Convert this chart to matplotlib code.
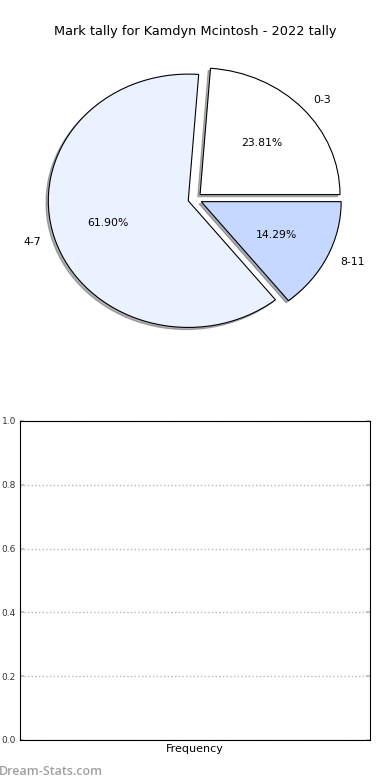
import numpy as np
import matplotlib
matplotlib.use("Agg")
import matplotlib.pyplot as plt

labels = ['0-3', '4-7', '8-11']
tally = [5, 13, 3]
colours = ['#ffffff', '#eaf1ff', '#c6d8ff']
explode = [0.05, 0.05, 0.05]

freq_labels = ['Frequency']
freq_values = []

fig = plt.figure(figsize=(3.9, 7.8), dpi=100)

# pie on top
ax1 = fig.add_axes([0.0513, 0.542, 0.897, 0.406])
wedges, texts, autotexts = ax1.pie(tally, labels=labels, colors=colours, explode=explode,
                                   autopct='%1.2f%%', startangle=0,
                                   shadow={'ox': -0.012, 'oy': -0.012, 'shade': 0.6},
                                   wedgeprops={'edgecolor': 'black', 'linewidth': 0.8},
                                   textprops={'fontsize': 7.8})
ax1.set_aspect('auto')
ax1.set_xlim(-1.25, 1.25)
ax1.set_ylim(-1.25, 1.25)
ax1.set_title('Mark tally for Kamdyn Mcintosh - 2022 tally', fontsize=9.3, pad=4)

# empty frequency plot underneath
ax2 = fig.add_axes([0.0513, 0.0513, 0.897, 0.409])
if freq_values:
    ax2.bar(range(len(freq_values)), freq_values)
ax2.set_xlim(-0.5, 0.5)
ax2.set_ylim(0, 1)
ax2.set_xticks(range(len(freq_labels)))
ax2.set_xticklabels(freq_labels, fontsize=8)
ax2.set_yticks(np.arange(0, 1.01, 0.2))
ax2.tick_params(axis='y', labelsize=6.5, direction='in', right=True, length=3,
                color='#b8b8b8', width=1.2, labelcolor='#333333', pad=3)
ax2.tick_params(axis='x', length=0, pad=3)
ax2.yaxis.grid(True, linestyle=':', color='#b8b8b8', linewidth=1)
ax2.set_axisbelow(True)

fig.text(-0.002, 0.006, 'Dream-Stats.com', fontsize=9, color='#a0a0a0',
         family='Open Sans', fontweight='semibold')

plt.savefig('out.png', dpi=100)
